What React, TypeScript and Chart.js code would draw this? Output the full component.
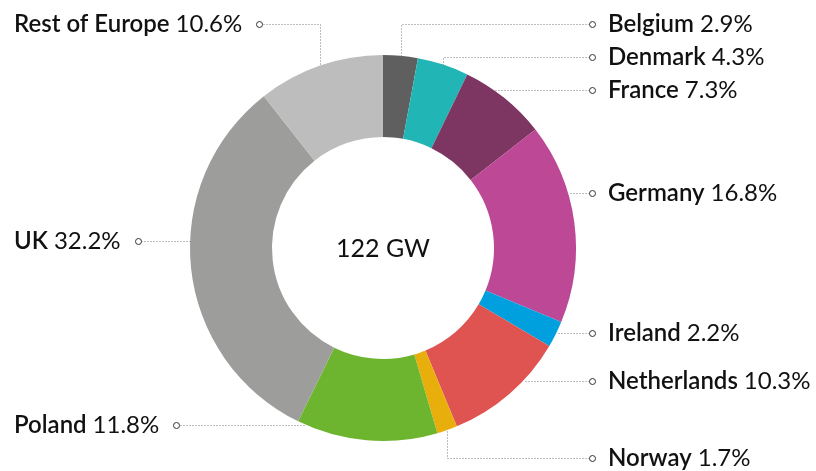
import React, { useEffect, useRef } from 'react';
import { Chart, registerables } from 'chart.js';

Chart.register(...registerables);

const countries = ['Belgium', 'Denmark', 'France', 'Germany', 'Ireland', 'Netherlands', 'Norway', 'Poland', 'UK', 'Rest of Europe'];
const shares = [2.9, 4.3, 7.3, 16.8, 2.2, 10.3, 1.7, 11.8, 32.2, 10.6];
const sliceColors = ['#5f5f5f', '#22b5b5', '#7d3661', '#bc4896', '#00a0df', '#df5350', '#e8ae0b', '#6eb52f', '#9d9d9b', '#bdbdbd'];
const centerLabel = '122 GW';
const labelSides = ['right', 'right', 'right', 'right', 'right', 'right', 'right', 'left', 'left', 'left'];
const labelYs = [24, 57, 90, 193, 333, 381, 458, 425, 241, 24];

const FONT_FAMILY = 'Lato, "Noto Sans", sans-serif';
const FONT_SIZE = 24;

const labelPlugin = {
  id: 'leaderLabels',
  afterDraw(chart: any) {
    const ctx = chart.ctx as CanvasRenderingContext2D;
    const meta = chart.getDatasetMeta(0);
    const ds = chart.data.datasets[0];
    ctx.save();
    meta.data.forEach((arc: any, i: number) => {
      const p = arc.getProps(['x', 'y', 'startAngle', 'endAngle', 'outerRadius'], true);
      const cx = p.x, cy = p.y, r = p.outerRadius;
      const side = labelSides[i];
      const Y = labelYs[i];
      const name = chart.data.labels[i];
      const val = ds.data[i].toFixed(1) + '%';

      // text
      ctx.textBaseline = 'alphabetic';
      ctx.fillStyle = '#111';
      ctx.font = `600 ${FONT_SIZE}px ${FONT_FAMILY}`;
      const nameW = ctx.measureText(name + ' ').width;
      ctx.font = `${FONT_SIZE}px ${FONT_FAMILY}`;
      const valW = ctx.measureText(val).width;
      let textX: number, dotX: number;
      if (side === 'right') {
        dotX = 592;
        textX = 608;
      } else {
        textX = 14;
        dotX = textX + nameW + valW + 17;
      }
      ctx.textAlign = 'left';
      ctx.font = `600 ${FONT_SIZE}px ${FONT_FAMILY}`;
      ctx.fillText(name, textX, Y + 8);
      ctx.font = `${FONT_SIZE}px ${FONT_FAMILY}`;
      ctx.fillText(val, textX + nameW, Y + 8);

      // anchor
      const start = p.startAngle, end = p.endAngle;
      const dy = Y - cy;
      let pts: [number, number][] = [];
      let done = false;
      if (Math.abs(dy) < r) {
        const dx = Math.sqrt(r * r - dy * dy) * (side === 'right' ? 1 : -1);
        let a = Math.atan2(dy, dx);
        while (a < start) a += Math.PI * 2;
        if (a <= end) {
          pts = [[dotX, Y], [cx + dx, Y]];
          done = true;
        }
      }
      if (!done) {
        const mid = (start + end) / 2;
        const ax = cx + r * Math.cos(mid);
        const ay = cy + r * Math.sin(mid);
        pts = [[dotX, Y], [ax, Y], [ax, ay]];
      }
      ctx.strokeStyle = '#7a7a7a';
      ctx.lineWidth = 1;
      ctx.setLineDash([1, 2]);
      ctx.beginPath();
      const off = side === 'right' ? -3.5 : 3.5;
      ctx.moveTo(Math.round(pts[0][0] + off) + 0.5, Math.round(pts[0][1]) + 0.5);
      for (let k = 1; k < pts.length; k++) {
        ctx.lineTo(Math.round(pts[k][0]) + 0.5, Math.round(pts[k][1]) + 0.5);
      }
      ctx.stroke();
      ctx.setLineDash([]);
      ctx.beginPath();
      ctx.arc(Math.round(dotX) + 0.5, Y + 0.5, 3, 0, Math.PI * 2);
      ctx.fillStyle = '#fff';
      ctx.fill();
      ctx.strokeStyle = '#333';
      ctx.stroke();
    });

    // center text
    const arc0 = meta.data[0];
    ctx.font = `25px ${FONT_FAMILY}`;
    ctx.fillStyle = '#111';
    ctx.textAlign = 'center';
    ctx.textBaseline = 'alphabetic';
    ctx.fillText(centerLabel, arc0.x, arc0.y + 9);
    ctx.restore();
  },
};

export default function App() {
  const ref = useRef<HTMLCanvasElement | null>(null);
  useEffect(() => {
    document.body.style.margin = '0';
    const chart = new Chart(ref.current as HTMLCanvasElement, {
      type: 'doughnut',
      data: {
        labels: countries,
        datasets: [
          {
            data: shares,
            backgroundColor: sliceColors,
            borderWidth: 0,
          },
        ],
      },
      options: {
        animation: false,
        responsive: true,
        maintainAspectRatio: false,
        cutout: '57.5%',
        layout: { padding: { left: 190, right: 240, top: 55, bottom: 30 } },
        plugins: { legend: { display: false }, tooltip: { enabled: false } },
      },
      plugins: [labelPlugin],
    } as any);
    return () => chart.destroy();
  }, []);
  return (
    <div style={{ width: 816, height: 471, position: 'relative', background: '#fff' }}>
      <canvas ref={ref} />
    </div>
  );
}
